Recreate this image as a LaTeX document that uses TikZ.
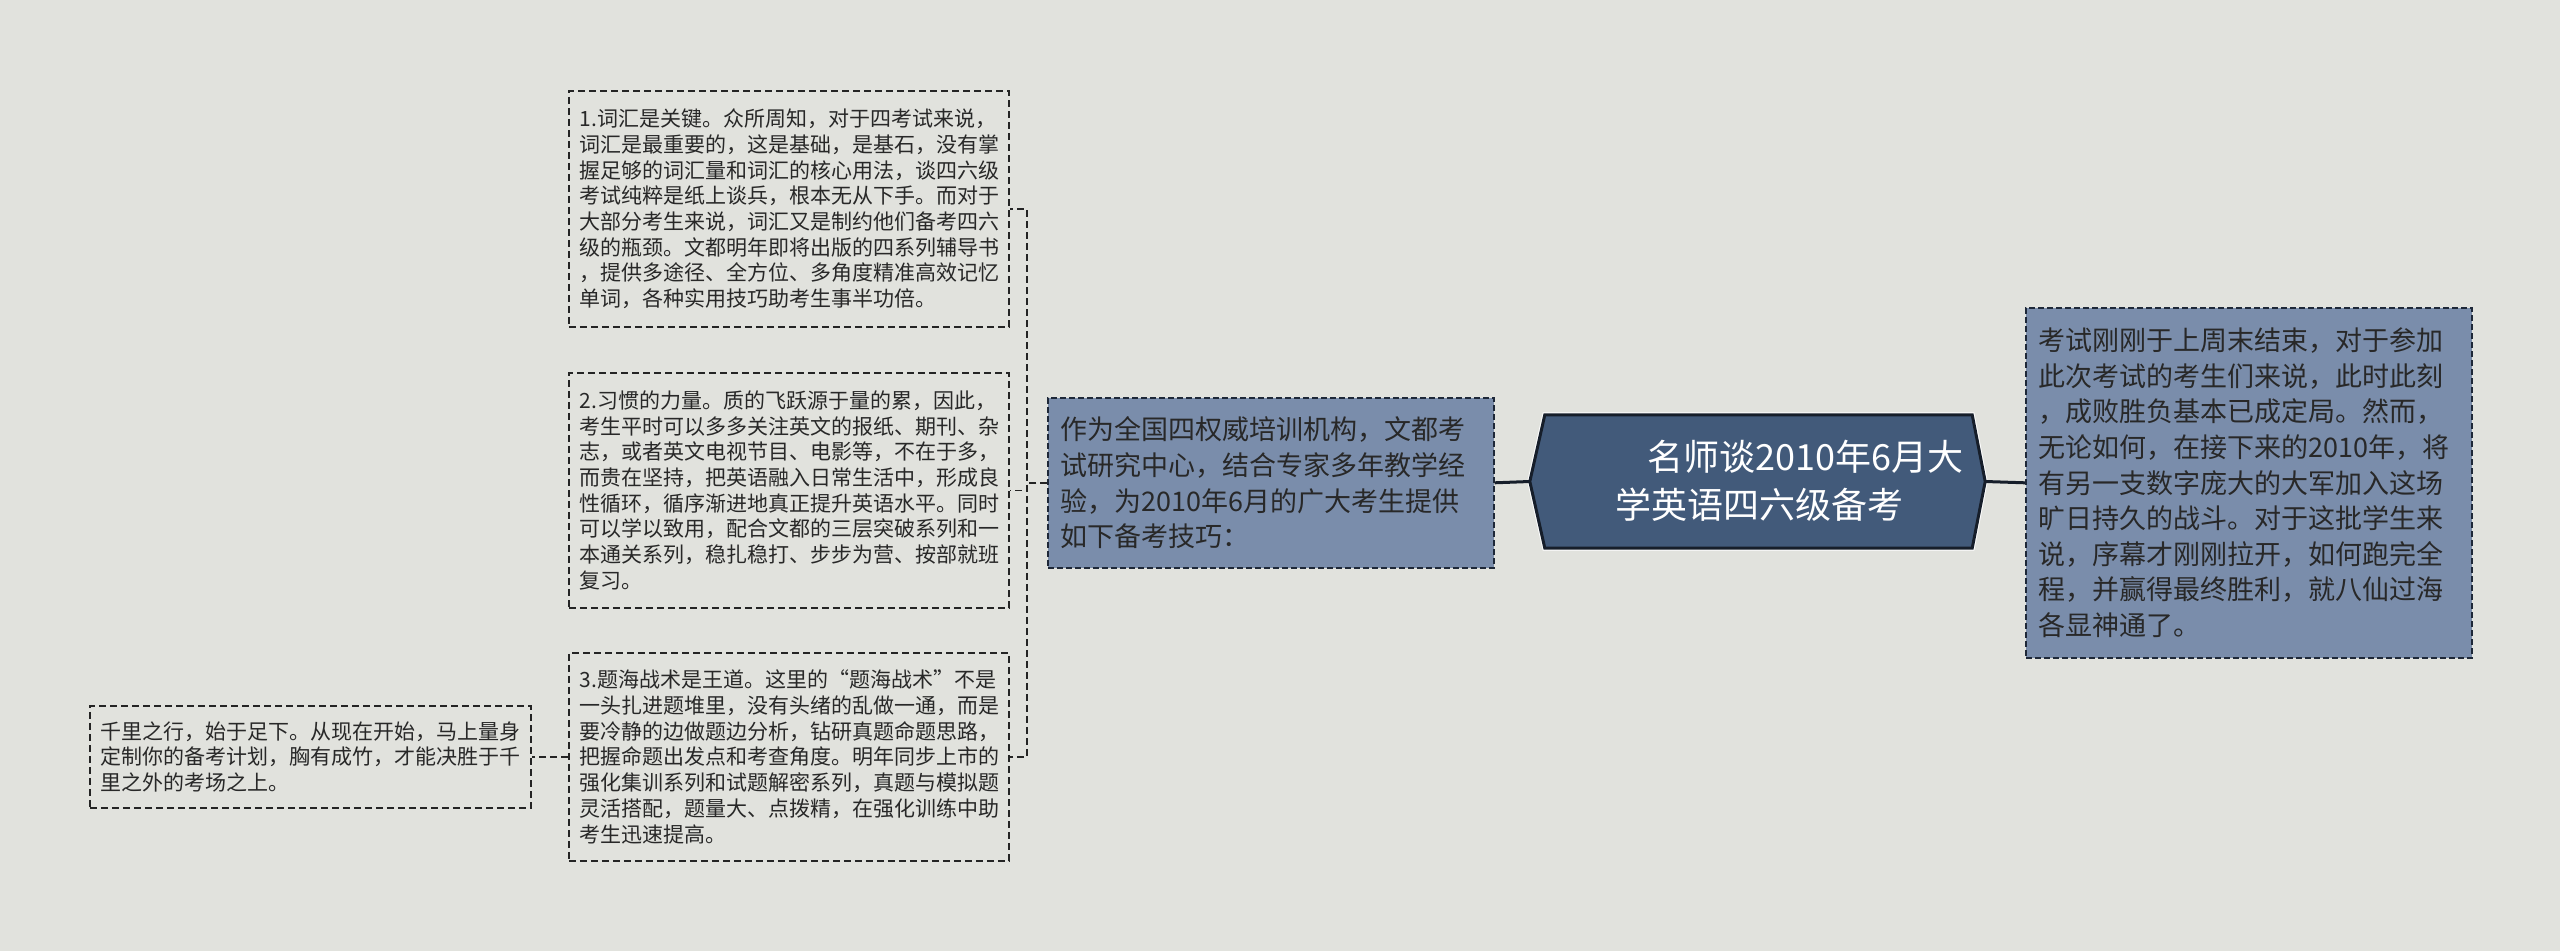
\documentclass[tikz,border=0pt]{standalone}
\usepackage{fontspec}
\newfontfamily\cjk{Noto Sans CJK SC}
\usetikzlibrary{calc}
\definecolor{bg}{RGB}{225,226,221}
\definecolor{txt}{RGB}{40,40,40}
\definecolor{bluefill}{RGB}{122,141,171}
\definecolor{blueedge}{RGB}{30,40,56}
\definecolor{mainfill}{RGB}{66,90,122}
\definecolor{mainedge}{RGB}{22,30,42}
\definecolor{edge}{RGB}{36,36,36}
\begin{document}
\begin{tikzpicture}[x=1pt,y=-1pt,
  leafbox/.style={draw=edge, line width=1.7pt, dash pattern=on 7pt off 4pt,
    text=txt, font=\cjk\fontsize{21pt}{25.7pt}\selectfont, align=left,
    inner xsep=11pt, inner ysep=0pt, text width=418pt, anchor=north west},
  bluebox/.style={draw=blueedge, fill=bluefill, line width=1.6pt, dash pattern=on 6pt off 3pt,
    text=txt, font=\cjk\fontsize{27pt}{35.6pt}\selectfont, align=left,
    inner xsep=13pt, inner ysep=0pt, text width=420pt, anchor=north west},
  conn/.style={draw=edge, line width=1.7pt, dash pattern=on 7pt off 4pt},
  mainconn/.style={draw=mainedge, line width=3pt},
  maintext/.style={text=white, font=\cjk\fontsize{36pt}{48pt}\selectfont, align=left, inner sep=0pt}
]
\fill[bg] (0,0) rectangle (2560,951);
\useasboundingbox (0,0) rectangle (2560,951);

% leaf boxes
\node[leafbox, minimum height=236pt] (b1) at (568,90) {1.词汇是关键。众所周知，对于四考试来说，\\词汇是最重要的，这是基础，是基石，没有掌\\握足够的词汇量和词汇的核心用法，谈四六级\\考试纯粹是纸上谈兵，根本无从下手。而对于\\大部分考生来说，词汇又是制约他们备考四六\\级的瓶颈。文都明年即将出版的四系列辅导书\\，提供多途径、全方位、多角度精准高效记忆\\单词，各种实用技巧助考生事半功倍。};
\node[leafbox, minimum height=235pt] (b2) at (568,372) {2.习惯的力量。质的飞跃源于量的累，因此，\\考生平时可以多多关注英文的报纸、期刊、杂\\志，或者英文电视节目、电影等，不在于多，\\而贵在坚持，把英语融入日常生活中，形成良\\性循环，循序渐进地真正提升英语水平。同时\\可以学以致用，配合文都的三层突破系列和一\\本通关系列，稳扎稳打、步步为营、按部就班\\复习。};
\node[leafbox, minimum height=208pt] (b3) at (568,652) {3.题海战术是王道。这里的“题海战术”不是\\一头扎进题堆里，没有头绪的乱做一通，而是\\要冷静的边做题边分析，钻研真题命题思路，\\把握命题出发点和考查角度。明年同步上市的\\强化集训系列和试题解密系列，真题与模拟题\\灵活搭配，题量大、点拨精，在强化训练中助\\考生迅速提高。};
\node[leafbox, minimum height=102pt, text width=419pt] (b4) at (89,705) {千里之行，始于足下。从现在开始，马上量身\\定制你的备考计划，胸有成竹，才能决胜于千\\里之外的考场之上。};

% blue boxes
\node[bluebox, minimum height=170pt] (cl) at (1047,397) {作为全国四权威培训机构，文都考\\试研究中心，结合专家多年教学经\\验，为2010年6月的广大考生提供\\如下备考技巧：};
\node[bluebox, minimum height=350pt] (rb) at (2025,307) {考试刚刚于上周末结束，对于参加\\此次考试的考生们来说，此时此刻\\，成败胜负基本已成定局。然而，\\无论如何，在接下来的2010年，将\\有另一支数字庞大的大军加入这场\\旷日持久的战斗。对于这批学生来\\说，序幕才刚刚拉开，如何跑完全\\程，并赢得最终胜利，就八仙过海\\各显神通了。};

% main node
\node[minimum width=455pt, minimum height=133pt, inner sep=0pt] (main) at (1757.5,481.5) {};
\draw[white, line width=5pt, line join=miter] (main.west) -- ([xshift=15pt]main.north west) -- ([xshift=-13pt]main.north east) -- (main.east) -- ([xshift=-13pt]main.south east) -- ([xshift=15pt]main.south west) -- cycle;
\filldraw[fill=mainfill, draw=mainedge, line width=3pt, line join=miter] (main.west) -- ([xshift=15pt]main.north west) -- ([xshift=-13pt]main.north east) -- (main.east) -- ([xshift=-13pt]main.south east) -- ([xshift=15pt]main.south west) -- cycle;
\node[maintext, anchor=west] (title) at (1615,481) {\hspace*{32pt}名师谈2010年6月大\\学英语四六级备考};

% connectors
\draw[mainconn] (main.west) -- (cl.east);
\draw[mainconn] (main.east) -- (rb.west);
\draw[conn] (cl.west) -- ++(-20,0) |- (b1.east);
\draw[conn] (cl.west) -- ++(-20,0) |- (b2.east);
\draw[conn] (cl.west) -- ++(-20,0) |- (b3.east);
\draw[conn] (b3.west) -- (b4.east);
\end{tikzpicture}
\end{document}
